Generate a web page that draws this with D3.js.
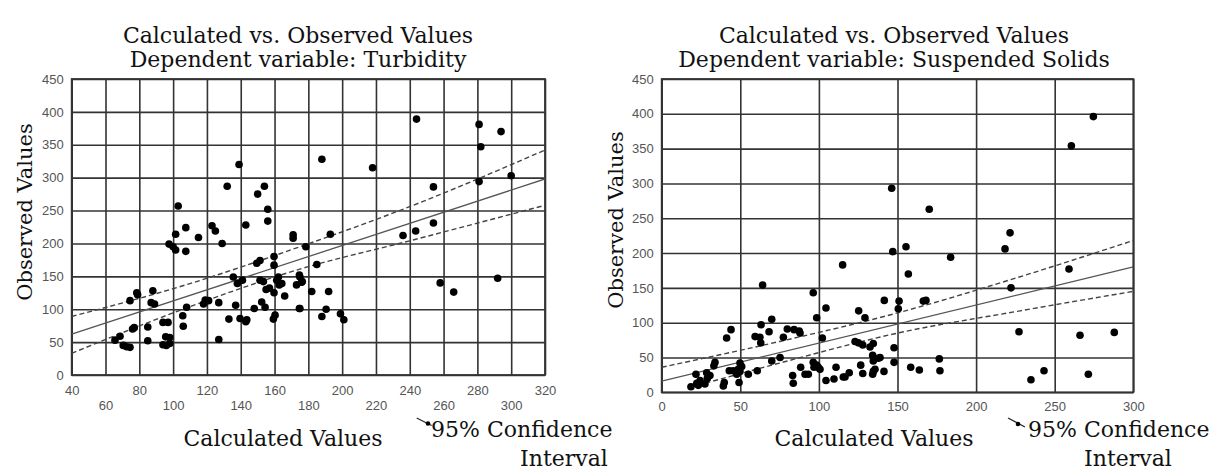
<!DOCTYPE html>
<html><head><meta charset="utf-8">
<script src="https://cdn.jsdelivr.net/npm/d3@7"></script>
<style>
body{margin:0;background:#fff;}
svg{display:block;}
.serif{font-family:"DejaVu Serif",serif;fill:#111;}
.tick text{font-family:"Liberation Sans",Arial,sans-serif;font-size:13px;fill:#555;}
.tick line{stroke:#333;stroke-width:1.6;}
</style></head><body>
<svg id="c" width="1211" height="473"></svg>
<script>
// ---------- Turbidity panel data ----------
const turbCalc = [103,101.5,107.5,115,123,125,132,139,143,150,154,156,156,171,171,188,193,218,244,281,294,282,254,281,300,236,243.5,254,178.5,185,175,176,182,192,175,190.5,188,199,201,258,266,292,107.5,129,97.6,100,101.5,78.5,79,74.5,88,87,89,77,76,65.6,68.6,70.5,72.5,74.5,85,85,94,97,95.6,98,94,96,98,105.7,106,108,118,119,121,127,127,133,135.6,138,141,137,139.6,143,143.6,148,149.5,151.4,151.4,153.4,152.4,154.4,155,157,159.7,159.7,159.7,159.3,160.3,161.3,162.8,164.3,162.3,166,173,174.7,176.4,174.7];
const turbObs = [257,214,224,209,227,219,287,320,228,275,287,252,234,213,208,328,214,315,389,381,370,347,286,294,303,212,219,231,195,168,149,141,127,127,101,100,89,93,84,140,126,147,188,200,199,195,190,125,122,113,128,110,108,72,70,53,59,45,43,42,73,52,80,80,58,57,46,45,48,90,74,103,108,114,113,110,54,85,149,139,144,106,86,81,84,101,170,174,144,142,111,103,130,132,180,167,125,85,91,144,137,139,149,120,137,152,142,101];
const turbFitX = [40, 320];
const turbFitY = [62, 298];
const turbCiX = [40, 110, 175, 240, 320];
const turbCiUpper = [89, 139, 195, 256, 342];
const turbCiLower = [33, 104, 161, 204, 258];
const turbXTicksRow1 = [40,80,120,160,200,240,280,320];
const turbXTicksRow2 = [60,100,140,180,220,260,300];

// ---------- Suspended solids panel data ----------
const ssCalc = [146.3,274.6,260.6,170.2,221.6,218.4,147,155.4,183.8,156.9,259.1,222.2,141.6,151,150.5,166.4,168.1,227.3,266.1,287.9,147.8,138.9,147.8,141.4,158.4,163.9,176.6,177,234.9,243.2,271.4,115.1,64.2,96.4,104.5,98.6,70,125.3,129.3,44.1,41.3,63.2,59.4,62.5,63,68.3,77.4,79.9,84.2,87.5,88,102.2,123,125.1,127.9,132.5,134.6,134.2,137.8,134.6,134.6,134.2,135.7,126.6,127.9,119.3,110.9,115.5,116.6,109.6,104.5,96.4,98.6,100.7,96.9,99.6,88.4,91.2,93.3,83.3,83.7,75.3,70,60.8,55.1,49.8,50.9,48.7,49.8,47.7,45.5,43,49.2,39.8,39.2,33.9,33.2,30.7,29,28.6,22.3,24.4,23.3,21.8,18.6,27.5];
const ssObs = [293,396,354,263,229,206,202,209,194,170,177,150,132,131,120,131,132,87,82,86,64,50,43,30,36,32,48,31,18,31,26,183,154,143,121,107,105,117,107,90,78,97,80,79,71,87,79,91,90,88,85,78,73,71,68,65,70,53,49,45,30,26,33,39,27,28,36,22,22,19,17,43,39,33,36,36,36,26,26,24,13,50,45,31,26,42,37,33,30,26,31,31,14,14,9,43,38,24,20,28,13,17,10,26,8,12];
const ssFitX = [0, 300];
const ssFitY = [16, 180];
const ssCiUpperX = [0, 75, 150, 228, 300];
const ssCiUpper = [36, 73, 114, 166, 218];
const ssCiLowerX = [18, 75, 150, 228, 300];
const ssCiLower = [7, 42, 85, 117, 145];
const ssXTicks = [0,50,100,150,200,250,300];

const yTicks = [0,50,100,150,200,250,300,350,400,450];
const titleLine1 = "Calculated vs. Observed Values";
const yTitle = "Observed Values";
const xTitle = "Calculated Values";
const legend1 = "95% Confidence";
const legend2 = "Interval";

const svg = d3.select("#c");

function panel(cfg){
  const g = svg.append("g");
  const x = d3.scaleLinear().domain(cfg.xDomain).range(cfg.xRange);
  const y = d3.scaleLinear().domain([0,450]).range(cfg.yRange);
  const w = cfg.xRange[1]-cfg.xRange[0], h = cfg.yRange[0]-cfg.yRange[1];

  g.append("g").attr("transform",`translate(${cfg.xRange[0]},0)`)
    .call(d3.axisLeft(y).tickValues(yTicks).tickSize(-w).tickPadding(8))
    .call(a=>a.select(".domain").remove());
  cfg.xRows.forEach(r=>{
    g.append("g").attr("transform",`translate(0,${cfg.yRange[0]})`)
      .call(d3.axisBottom(x).tickValues(r.ticks).tickSize(-h).tickPadding(r.pad))
      .call(a=>a.select(".domain").remove());
  });
  g.append("rect").attr("x",cfg.xRange[0]).attr("y",cfg.yRange[1]).attr("width",w).attr("height",h)
    .attr("fill","none").attr("stroke","#333").attr("stroke-width",1.8);

  const cid = "clip"+cfg.id;
  svg.append("clipPath").attr("id",cid).append("rect")
    .attr("x",cfg.xRange[0]).attr("y",cfg.yRange[1]).attr("width",w).attr("height",h);
  const lg = g.append("g").attr("clip-path",`url(#${cid})`);
  const line = d3.line().x(d=>x(d[0])).y(d=>y(d[1])).curve(d3.curveMonotoneX);
  [[cfg.upX,cfg.up],[cfg.loX,cfg.lo]].forEach(([xs,ys])=>{
    lg.append("path").attr("d",line(xs.map((v,i)=>[v,ys[i]])))
      .attr("fill","none").attr("stroke","#444").attr("stroke-width",1.4).attr("stroke-dasharray","5,3");
  });
  lg.append("path").attr("d",line(cfg.fitX.map((v,i)=>[v,cfg.fitY[i]])))
    .attr("fill","none").attr("stroke","#555").attr("stroke-width",1.3);

  g.append("g").selectAll("circle").data(cfg.cx.map((v,i)=>[v,cfg.cy[i]])).join("circle")
    .attr("cx",d=>x(d[0])).attr("cy",d=>y(d[1])).attr("r",3.8).attr("fill","#000");

  // titles
  g.append("text").attr("class","serif").attr("x",cfg.titleX).attr("y",43).attr("text-anchor","middle")
    .style("font-size","22px").text(titleLine1);
  g.append("text").attr("class","serif").attr("x",cfg.titleX).attr("y",66.5).attr("text-anchor","middle")
    .style("font-size","22px").text(cfg.title2);
  g.append("text").attr("class","serif").attr("transform",`translate(${cfg.yTitleX},${cfg.yTitleY}) rotate(-90)`)
    .attr("text-anchor","middle").style("font-size","21px").text(yTitle);
  g.append("text").attr("class","serif").attr("x",cfg.xTitleX).attr("y",446).attr("text-anchor","middle")
    .style("font-size","22px").text(xTitle);
  g.append("text").attr("class","serif").attr("x",cfg.legX).attr("y",437).attr("text-anchor","start")
    .style("font-size","22px").text(legend1);
  g.append("text").attr("class","serif").attr("x",cfg.intX).attr("y",466).attr("text-anchor","middle")
    .style("font-size","22px").text(legend2);
  const m = cfg.marker;
  g.append("line").attr("x1",m[0]).attr("y1",m[1]).attr("x2",m[2]).attr("y2",m[3])
    .attr("stroke","#222").attr("stroke-width",1.2);
  g.append("circle").attr("cx",m[4]).attr("cy",m[5]).attr("r",2.3).attr("fill","#000");
}

panel({id:1, xDomain:[40,320], xRange:[71.7,545], yRange:[375,79],
  xRows:[{ticks:turbXTicksRow1,pad:11},{ticks:turbXTicksRow2,pad:26}],
  cx:turbCalc, cy:turbObs, fitX:turbFitX, fitY:turbFitY,
  upX:turbCiX, up:turbCiUpper, loX:turbCiX, lo:turbCiLower,
  title2:"Dependent variable: Turbidity", titleX:298, yTitleX:32, yTitleY:212,
  xTitleX:283, legX:431, intX:564, marker:[416.7,418,431.7,425.5,428,423.5]});

panel({id:2, xDomain:[0,300], xRange:[661.7,1133.3], yRange:[392.3,79],
  xRows:[{ticks:ssXTicks,pad:9}],
  cx:ssCalc, cy:ssObs, fitX:ssFitX, fitY:ssFitY,
  upX:ssCiUpperX, up:ssCiUpper, loX:ssCiLowerX, lo:ssCiLower,
  title2:"Dependent variable: Suspended Solids", titleX:894, yTitleX:623, yTitleY:220,
  xTitleX:874, legX:1028, intX:1128, marker:[1008,418,1025,427,1018,424]});
</script>
</body></html>
